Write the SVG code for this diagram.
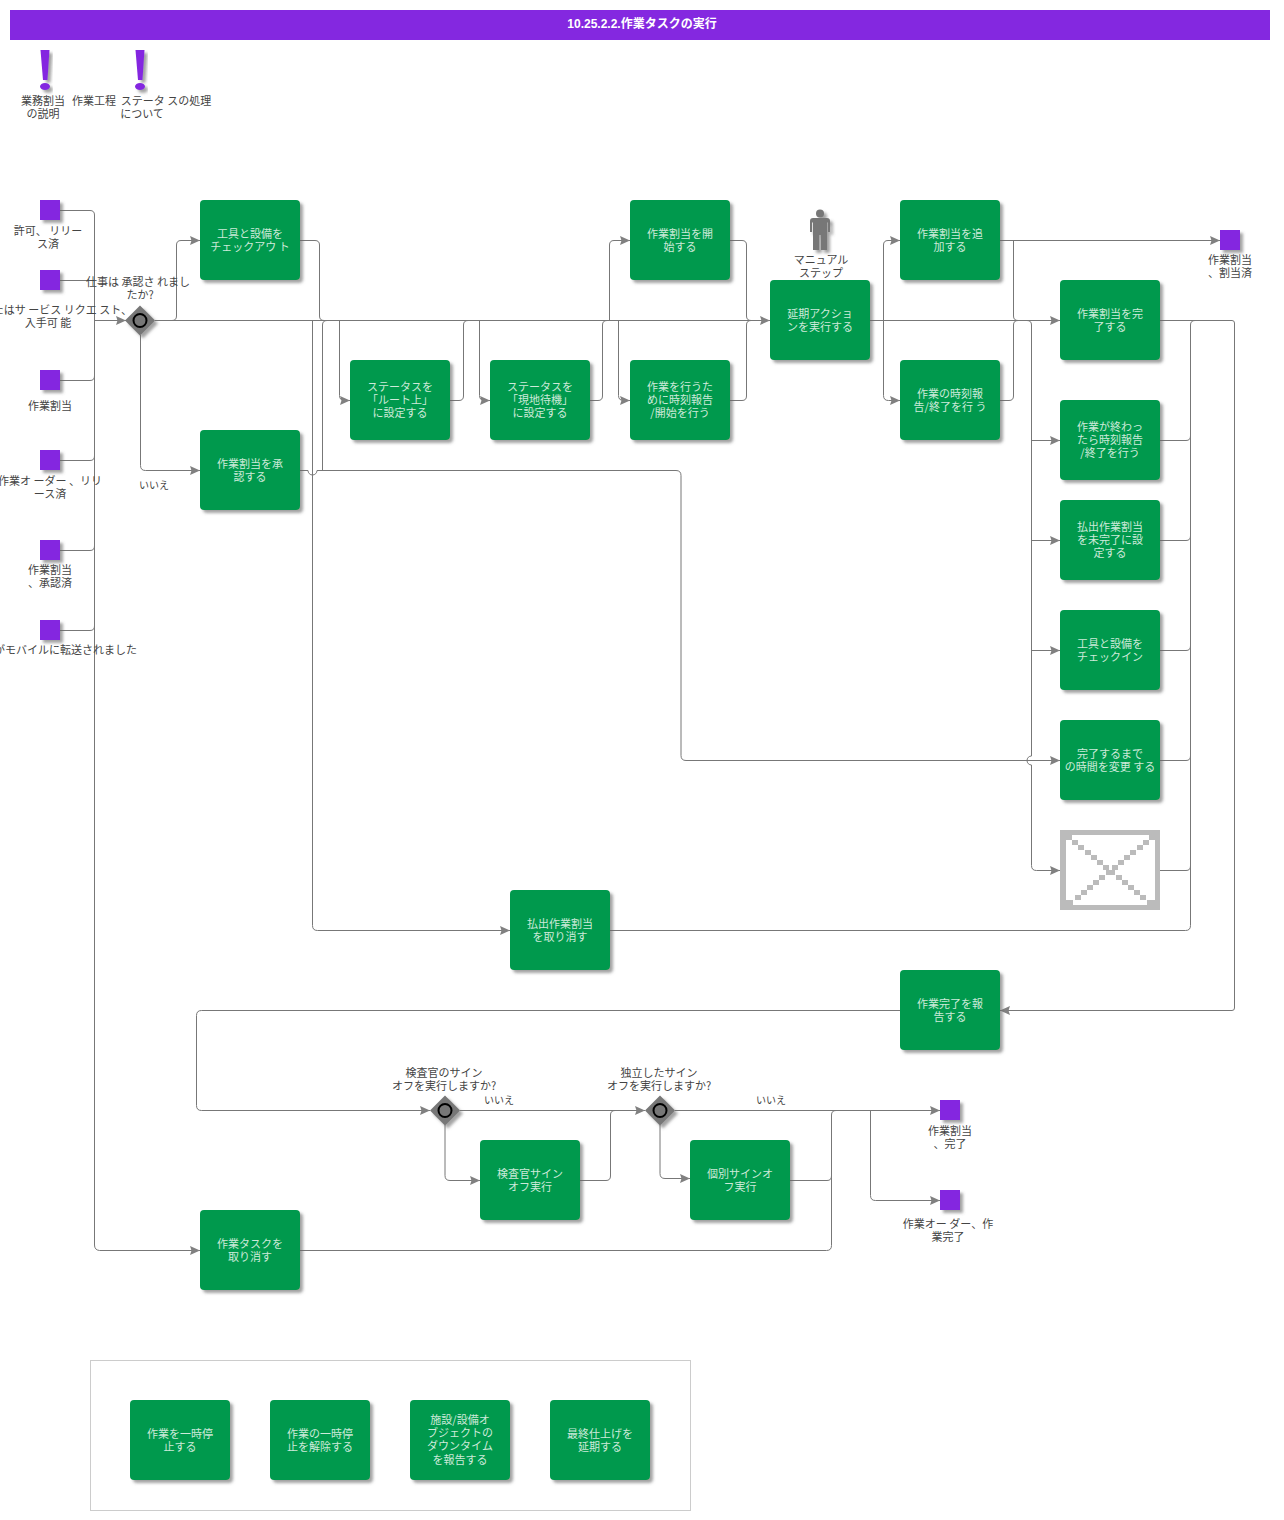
<svg xmlns="http://www.w3.org/2000/svg" width="1284" height="1520" viewBox="0 0 1284 1520">
<style>
text{font-family:"Noto Sans CJK JP","Liberation Sans",sans-serif;font-size:11px;text-anchor:middle;dominant-baseline:central;transform:translateY(-1px)}
.l{fill:#444}
.b text{fill:#cdeada}
.e{fill:#8428e0}
.c path{fill:none;stroke:#777;stroke-width:1}
.a{marker-end:url(#ah)}
.g{fill:#777}
</style>
<defs>
<filter id="sh" x="-20%" y="-20%" width="150%" height="150%"><feDropShadow dx="3" dy="3" stdDeviation="1.500" flood-color="#666" flood-opacity=".6"/></filter>
<marker id="ah" markerUnits="userSpaceOnUse" markerWidth="11" markerHeight="10" refX="10" refY="5" orient="auto"><path d="M0 0.500L10 5L0 9.500L1.500 5Z" fill="#808080"/></marker>
<rect id="box" width="100" height="80" rx="4"/>
<rect id="sq" width="20" height="20"/>
</defs>
<rect id="title-bar" x="10" y="10" width="1260" height="30" fill="#8428e0"/>
<text x="642" y="25" style="fill:#fff;font-size:12px;font-weight:700;font-family:'Liberation Sans','Noto Sans CJK JP',sans-serif">10.25.2.2.作業タスクの実行</text>
<g id="note-1" filter="url(#sh)"><path class="e" d="M40.500 50H49.500L47.500 80H43Z"/><ellipse class="e" cx="45" cy="86.500" rx="5" ry="3.500"/></g>
<g id="note-2" filter="url(#sh)"><path class="e" d="M135.500 50H144.500L142.500 80H138Z"/><ellipse class="e" cx="140" cy="86.500" rx="5" ry="3.500"/></g>
<g class="l">
<text x="43" y="101">業務割当</text><text x="43" y="114">の説明</text><text x="94" y="101">作業工程</text>
<text x="166" y="101">ステータ スの処理</text><text x="142" y="114">について</text>
</g>
<g id="connectors" class="c">
<path d="M60 210.500H90q4.500 0 4.500 4.500V1245q0 5 5 5.500H200" class="a"/>
<path d="M60 280.500H94.500"/>
<path d="M94.500 320.500H126" class="a"/>
<path d="M60 380.500H90q4.500 0 4.500-4.500"/>
<path d="M60 460.500H90q4.500 0 4.500-4.500"/>
<path d="M60 550.500H90q4.500 0 4.500-4.500"/>
<path d="M60 630.500H90q4.500 0 4.500-4.500"/>
<path d="M155 320.500H770" class="a"/>
<path d="M172 320.500q4.500 0 4.500-4.500V245q0-4.500 4.500-4.500H200" class="a"/>
<path d="M140.500 335V465.500q0 5 5 5H200" class="a"/>
<path d="M300 240.500H315q4.500 0 4.500 4.500V316q0 4.500 4.500 4.500"/>
<path d="M312.500 320.500V925.500q0 5 5 5H510" class="a"/>
<path d="M300 470.500H308a4.500 4.500 0 0 0 9 0H322.500"/>
<path d="M317 470.500H676q5 0 5 5V755.500q0 5 5 5H1060" class="a"/>
<path d="M322.500 470.500V325q0-4.500 4.500-4.500"/>
<path d="M339.500 320.500V395.500q0 5 5 5H350" class="a"/>
<path d="M450 400.500H459q4.500 0 4.500-4.500V325q0-4.500 4.500-4.500"/>
<path d="M479.500 320.500V395.500q0 5 5 5H490" class="a"/>
<path d="M590 400.500H598q4.500 0 4.500-4.500V325q0-4.500 4.500-4.500"/>
<path d="M609.500 320.500V245q0-4.500 4.500-4.500H630" class="a"/>
<path d="M618.500 320.500V395.500q0 5 5 5H630" class="a"/>
<path d="M730 240.500H742q4.500 0 4.500 4.500V316q0 4.500 4.500 4.500"/>
<path d="M730 400.500H742q4.500 0 4.500-4.500V325q0-4.500 4.500-4.500"/>
<path d="M870 320.500H1060" class="a"/>
<path d="M883.500 320.500V245q0-4.500 4.500-4.500H900" class="a"/>
<path d="M883.500 320.500V395.500q0 5 5 5H900" class="a"/>
<path d="M1000 240.500H1220" class="a"/>
<path d="M1013.500 240.500V316q0 4.500 4.500 4.500"/>
<path d="M1000 400.500H1009q4.500 0 4.500-4.500V325q0-4.500 4.500-4.500"/>
<path d="M1027 320.500q4.500 0 4.500 4.500V756a4.500 4.500 0 0 0 0 9V865.500q0 5 5 5H1060" class="a"/>
<path d="M1031.500 440.500H1060" class="a"/>
<path d="M1031.500 540.500H1060" class="a"/>
<path d="M1031.500 650.500H1060" class="a"/>
<path d="M1160 320.500H1232q2.500 0 2.500 2.500V1008q0 2.500-2.500 2.500H1000" class="a"/>
<path d="M1195 320.500q-4.500 0-4.500 4.500V925.500q0 5-5 5H610"/>
<path d="M1160 440.500H1186q4.500 0 4.500-4.500"/>
<path d="M1160 540.500H1186q4.500 0 4.500-4.500"/>
<path d="M1160 650.500H1186q4.500 0 4.500-4.500"/>
<path d="M1160 760.500H1186q4.500 0 4.500-4.500"/>
<path d="M1160 870.500H1186q4.500 0 4.500-4.500"/>
<path d="M900 1010.500H201.500q-5 0-5 5V1105.500q0 5 5 5H430" class="a"/>
<path d="M460 1110.500H645" class="a"/>
<path d="M675 1110.500H940" class="a"/>
<path d="M445 1125V1175.500q0 5 5 5H480" class="a"/>
<path d="M580 1180.500H606q4.500 0 4.500-4.500V1115q0-4.500 4.500-4.500"/>
<path d="M660 1125V1173.500q0 5 5 5H690" class="a"/>
<path d="M790 1180.500H827q4.500 0 4.500-4.500"/>
<path d="M300 1250.500H826.500q5 0 5-5V1115q0-4.500 4.500-4.500"/>
<path d="M870.500 1110.500V1195.500q0 5 5 5H940" class="a"/>
</g>
<g id="ev1"><use href="#sq" x="40" y="200" class="e" filter="url(#sh)"/><g class="l"><text x="48" y="231">許可、 リリー</text><text x="48" y="244">ス済</text></g></g>
<g id="ev2"><use href="#sq" x="40" y="270" class="e" filter="url(#sh)"/><g class="l"><text x="138" y="282">仕事は 承認さ れまし</text><text x="140" y="295">たか?</text></g></g>
<g id="ev2-label" class="l"><text x="132" y="310" style="text-anchor:end">またはサ ービス リクエ スト、</text><text x="48" y="323">入手可 能</text></g>
<g id="ev3"><use href="#sq" x="40" y="370" class="e" filter="url(#sh)"/><text class="l" x="50" y="406">作業割当</text></g>
<g id="ev4"><use href="#sq" x="40" y="450" class="e" filter="url(#sh)"/><g class="l"><text x="50" y="481">作業オ ーダー 、リリ</text><text x="50" y="494">ース済</text></g></g>
<g id="ev5"><use href="#sq" x="40" y="540" class="e" filter="url(#sh)"/><g class="l"><text x="50" y="570">作業割当</text><text x="50" y="583">、承認済</text></g></g>
<g id="ev6"><use href="#sq" x="40" y="620" class="e" filter="url(#sh)"/><text class="l" x="137" y="650" style="text-anchor:end">がモバイルに転送されました</text></g>
<g id="gw1"><path class="g" filter="url(#sh)" d="M140 305.500L155 320.500L140 335.500L125 320.500Z"/><circle cx="140" cy="320.500" r="6.500" fill="#777" stroke="#000" stroke-width="2"/></g>
<g id="gw2"><path class="g" filter="url(#sh)" d="M445 1095.500L460 1110.500L445 1125.500L430 1110.500Z"/><circle cx="445" cy="1110.500" r="6.500" fill="#777" stroke="#000" stroke-width="2"/><g class="l"><text x="444" y="1073">検査官のサイン</text><text x="444" y="1086">オフを実行しますか?</text></g></g>
<g id="gw3"><path class="g" filter="url(#sh)" d="M660 1095.500L675 1110.500L660 1125.500L645 1110.500Z"/><circle cx="660" cy="1110.500" r="6.500" fill="#777" stroke="#000" stroke-width="2"/><g class="l"><text x="659" y="1073">独立したサイン</text><text x="659" y="1086">オフを実行しますか?</text></g></g>
<g class="l"><text x="154" y="485" style="font-size:10px">いいえ</text><text x="499" y="1100" style="font-size:10px">いいえ</text><text x="771" y="1100" style="font-size:10px">いいえ</text></g>
<g id="n1" class="b"><use href="#box" x="200" y="200" fill="#00994d" filter="url(#sh)"/><text x="250" y="234">工具と設備を</text><text x="250" y="247">チェックアウ ト</text></g>
<g id="n2" class="b"><use href="#box" x="200" y="430" fill="#00994d" filter="url(#sh)"/><text x="250" y="464">作業割当を承</text><text x="250" y="477">認する</text></g>
<g id="n3" class="b"><use href="#box" x="350" y="360" fill="#00994d" filter="url(#sh)"/><text x="400" y="387">ステータスを</text><text x="400" y="400">「ルート上」</text><text x="400" y="413">に設定する</text></g>
<g id="n4" class="b"><use href="#box" x="490" y="360" fill="#00994d" filter="url(#sh)"/><text x="540" y="387">ステータスを</text><text x="540" y="400">「現地待機」</text><text x="540" y="413">に設定する</text></g>
<g id="n5" class="b"><use href="#box" x="630" y="200" fill="#00994d" filter="url(#sh)"/><text x="680" y="234">作業割当を開</text><text x="680" y="247">始する</text></g>
<g id="n6" class="b"><use href="#box" x="630" y="360" fill="#00994d" filter="url(#sh)"/><text x="680" y="387">作業を行うた</text><text x="680" y="400">めに時刻報告</text><text x="680" y="413">/開始を行う</text></g>
<g id="n7" class="b"><use href="#box" x="770" y="280" fill="#00994d" filter="url(#sh)"/><text x="820" y="314">延期アクショ</text><text x="820" y="327">ンを実行する</text></g>
<g id="n8" class="b"><use href="#box" x="900" y="200" fill="#00994d" filter="url(#sh)"/><text x="950" y="234">作業割当を追</text><text x="950" y="247">加する</text></g>
<g id="n9" class="b"><use href="#box" x="900" y="360" fill="#00994d" filter="url(#sh)"/><text x="950" y="394">作業の時刻報</text><text x="950" y="407">告/終了を行 う</text></g>
<g id="n10" class="b"><use href="#box" x="1060" y="280" fill="#00994d" filter="url(#sh)"/><text x="1110" y="314">作業割当を完</text><text x="1110" y="327">了する</text></g>
<g id="n11" class="b"><use href="#box" x="1060" y="400" fill="#00994d" filter="url(#sh)"/><text x="1110" y="427">作業が終わっ</text><text x="1110" y="440">たら時刻報告</text><text x="1110" y="453">/終了を行う</text></g>
<g id="n12" class="b"><use href="#box" x="1060" y="500" fill="#00994d" filter="url(#sh)"/><text x="1110" y="527">払出作業割当</text><text x="1110" y="540">を未完了に設</text><text x="1110" y="553">定する</text></g>
<g id="n13" class="b"><use href="#box" x="1060" y="610" fill="#00994d" filter="url(#sh)"/><text x="1110" y="644">工具と設備を</text><text x="1110" y="657">チェックイン</text></g>
<g id="n14" class="b"><use href="#box" x="1060" y="720" fill="#00994d" filter="url(#sh)"/><text x="1110" y="754">完了するまで</text><text x="1110" y="767">の時間を変更 する</text></g>
<g id="n15" shape-rendering="crispEdges"><path fill="#fff" d="M1060 830h100v80h-100z"/><path fill="#bbb" fill-rule="evenodd" d="M1060 830h100v80h-100zM1066 835v70h89v-70z"/><path fill="#bbb" d="M1066 835h6v5h-6zM1072 840h6v5h-6zM1078 845h6v5h-6zM1085 850h6v5h-6zM1091 855h6v5h-6zM1097 860h6v5h-6zM1103 865h6v5h-6zM1109 870h6v5h-6zM1116 875h6v5h-6zM1122 880h6v5h-6zM1128 885h6v5h-6zM1134 890h6v5h-6zM1140 895h6v5h-6zM1147 900h8v5h-8zM1149 835h6v5h-6zM1143 840h6v5h-6zM1137 845h6v5h-6zM1130 850h6v5h-6zM1124 855h6v5h-6zM1118 860h6v5h-6zM1112 865h6v5h-6zM1106 870h6v5h-6zM1099 875h6v5h-6zM1093 880h6v5h-6zM1087 885h6v5h-6zM1081 890h6v5h-6zM1075 895h6v5h-6zM1066 900h7v5h-7z"/></g>
<g id="n16" class="b"><use href="#box" x="510" y="890" fill="#00994d" filter="url(#sh)"/><text x="560" y="924">払出作業割当</text><text x="560" y="937">を取り消す</text></g>
<g id="n17" class="b"><use href="#box" x="900" y="970" fill="#00994d" filter="url(#sh)"/><text x="950" y="1004">作業完了を報</text><text x="950" y="1017">告する</text></g>
<g id="n18" class="b"><use href="#box" x="480" y="1140" fill="#00994d" filter="url(#sh)"/><text x="530" y="1174">検査官サイン</text><text x="530" y="1187">オフ実行</text></g>
<g id="n19" class="b"><use href="#box" x="690" y="1140" fill="#00994d" filter="url(#sh)"/><text x="740" y="1174">個別サインオ</text><text x="740" y="1187">フ実行</text></g>
<g id="n20" class="b"><use href="#box" x="200" y="1210" fill="#00994d" filter="url(#sh)"/><text x="250" y="1244">作業タスクを</text><text x="250" y="1257">取り消す</text></g>
<g id="person"><g filter="url(#sh)"><circle cx="820" cy="213.500" r="4" class="g"/><path class="g" d="M810 221q0-3 3-3H827q3 0 3 3V232h-2V222.500h-1V250H821V235h-2V250H813V222.500H812V232H810Z"/></g><g class="l"><text x="821" y="260">マニュアル</text><text x="821" y="273">ステップ</text></g></g>
<g id="end1"><use href="#sq" x="1220" y="230" class="e" filter="url(#sh)"/><g class="l"><text x="1230" y="260">作業割当</text><text x="1230" y="273">、割当済</text></g></g>
<g id="end2"><use href="#sq" x="940" y="1100" class="e" filter="url(#sh)"/><g class="l"><text x="950" y="1131">作業割当</text><text x="950" y="1144">、完了</text></g></g>
<g id="end3"><use href="#sq" x="940" y="1190" class="e" filter="url(#sh)"/><g class="l"><text x="948" y="1224">作業オー ダー、作</text><text x="948" y="1237">業完了</text></g></g>
<rect id="legend" x="90.500" y="1360.500" width="600" height="150" fill="none" stroke="#ccc"/>
<g id="n21" class="b"><use href="#box" x="130" y="1400" fill="#00994d" filter="url(#sh)"/><text x="180" y="1434">作業を一時停</text><text x="180" y="1447">止する</text></g>
<g id="n22" class="b"><use href="#box" x="270" y="1400" fill="#00994d" filter="url(#sh)"/><text x="320" y="1434">作業の一時停</text><text x="320" y="1447">止を解除する</text></g>
<g id="n23" class="b"><use href="#box" x="410" y="1400" fill="#00994d" filter="url(#sh)"/><text x="460" y="1420">施設/設備オ</text><text x="460" y="1433">ブジェクトの</text><text x="460" y="1446">ダウンタイム</text><text x="460" y="1460">を報告する</text></g>
<g id="n24" class="b"><use href="#box" x="550" y="1400" fill="#00994d" filter="url(#sh)"/><text x="600" y="1434">最終仕上げを</text><text x="600" y="1447">延期する</text></g>
</svg>
